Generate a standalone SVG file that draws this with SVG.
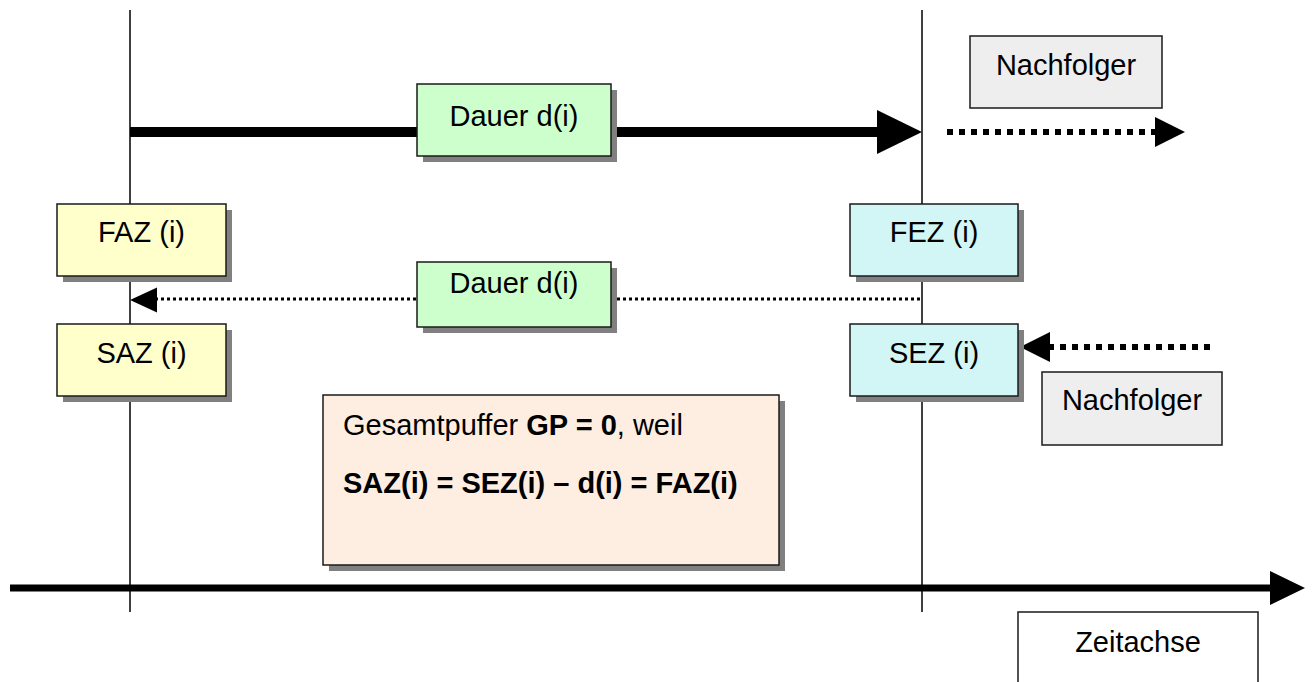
<svg xmlns="http://www.w3.org/2000/svg" width="1316" height="682" viewBox="0 0 1316 682">
<style>
  .t { font-family: "Liberation Sans", Arial, sans-serif; font-size: 29px; fill: #000; }
  .b { font-weight: bold; }
  .box { stroke: #1a1a1a; stroke-width: 1.5; }
  .sh { fill: #808080; }
  .vline { stroke: #000; stroke-width: 1.5; fill: none; }
  .thick { stroke: #000; stroke-width: 10; fill: none; }
  .dotS { stroke: #000; stroke-width: 3; stroke-dasharray: 3 3; fill: none; }
  .dotL { stroke: #000; stroke-width: 6; stroke-dasharray: 6 6; fill: none; }
  .head { fill: #000; }
</style>
<rect width="1316" height="682" fill="#fff"/>
<g id="connectors">
  <line class="vline" x1="130" y1="10" x2="130" y2="612"/>
  <line class="vline" x1="922" y1="10" x2="922" y2="612"/>
  <line class="thick" x1="130" y1="132" x2="880" y2="132"/>
  <polygon class="head" points="877,110 922,132 877,154"/>
  <line class="dotS" x1="155" y1="299" x2="922" y2="299"/>
  <polygon class="head" points="130,300 157,287.5 157,312.5"/>
  <line class="dotL" x1="947" y1="132" x2="1157" y2="132"/>
  <polygon class="head" points="1155,117 1185,132 1155,147"/>
  <line class="dotL" x1="1048" y1="347" x2="1210" y2="347"/>
  <polygon class="head" points="1020,347 1050,332 1050,362"/>
  <line stroke="#000" stroke-width="7" x1="10" y1="588" x2="1272" y2="588"/>
  <polygon class="head" points="1270,571 1305,588 1270,605"/>
</g>
<g id="dauer1">
  <rect class="sh" x="423" y="90" width="194" height="72"/>
  <rect class="box" x="417" y="84" width="194" height="72" fill="#ccffcc"/>
  <text class="t" x="514" y="126" text-anchor="middle">Dauer d(i)</text>
</g>
<g id="dauer2">
  <rect class="sh" x="423" y="268" width="194" height="65"/>
  <rect class="box" x="417" y="262" width="194" height="65" fill="#ccffcc"/>
  <text class="t" x="514" y="293" text-anchor="middle">Dauer d(i)</text>
</g>
<g id="faz">
  <rect class="sh" x="63" y="210" width="169" height="72"/>
  <rect class="box" x="57" y="204" width="169" height="72" fill="#ffffcc"/>
  <text class="t" x="141.5" y="242" text-anchor="middle">FAZ (i)</text>
</g>
<g id="saz">
  <rect class="sh" x="63" y="330" width="169" height="72"/>
  <rect class="box" x="57" y="324" width="169" height="72" fill="#ffffcc"/>
  <text class="t" x="141.5" y="363" text-anchor="middle">SAZ (i)</text>
</g>
<g id="fez">
  <rect class="sh" x="856" y="210" width="168" height="72"/>
  <rect class="box" x="850" y="204" width="168" height="72" fill="#d2f5f5"/>
  <text class="t" x="934" y="242" text-anchor="middle">FEZ (i)</text>
</g>
<g id="sez">
  <rect class="sh" x="856" y="330" width="168" height="72"/>
  <rect class="box" x="850" y="324" width="168" height="72" fill="#d2f5f5"/>
  <text class="t" x="934" y="363" text-anchor="middle">SEZ (i)</text>
</g>
<g id="nachfolger1">
  <rect class="box" x="970" y="36" width="192" height="72" fill="#eeeeee"/>
  <text class="t" x="1066" y="75" text-anchor="middle">Nachfolger</text>
</g>
<g id="nachfolger2">
  <rect class="box" x="1042" y="372" width="180" height="73" fill="#eeeeee"/>
  <text class="t" x="1132" y="410" text-anchor="middle">Nachfolger</text>
</g>
<g id="gesamtpuffer">
  <rect class="sh" x="329" y="401" width="456" height="170"/>
  <rect class="box" x="323" y="395" width="456" height="170" fill="#fdeee1"/>
  <text class="t" x="343" y="435">Gesamtpuffer <tspan class="b">GP = 0</tspan>, weil</text>
  <text class="t b" x="343" y="493">SAZ(i) = SEZ(i) – d(i) = FAZ(i)</text>
</g>
<g id="zeitachse">
  <rect class="box" x="1018" y="612" width="240" height="80" fill="#ffffff"/>
  <text class="t" x="1138" y="652" text-anchor="middle">Zeitachse</text>
</g>
</svg>
